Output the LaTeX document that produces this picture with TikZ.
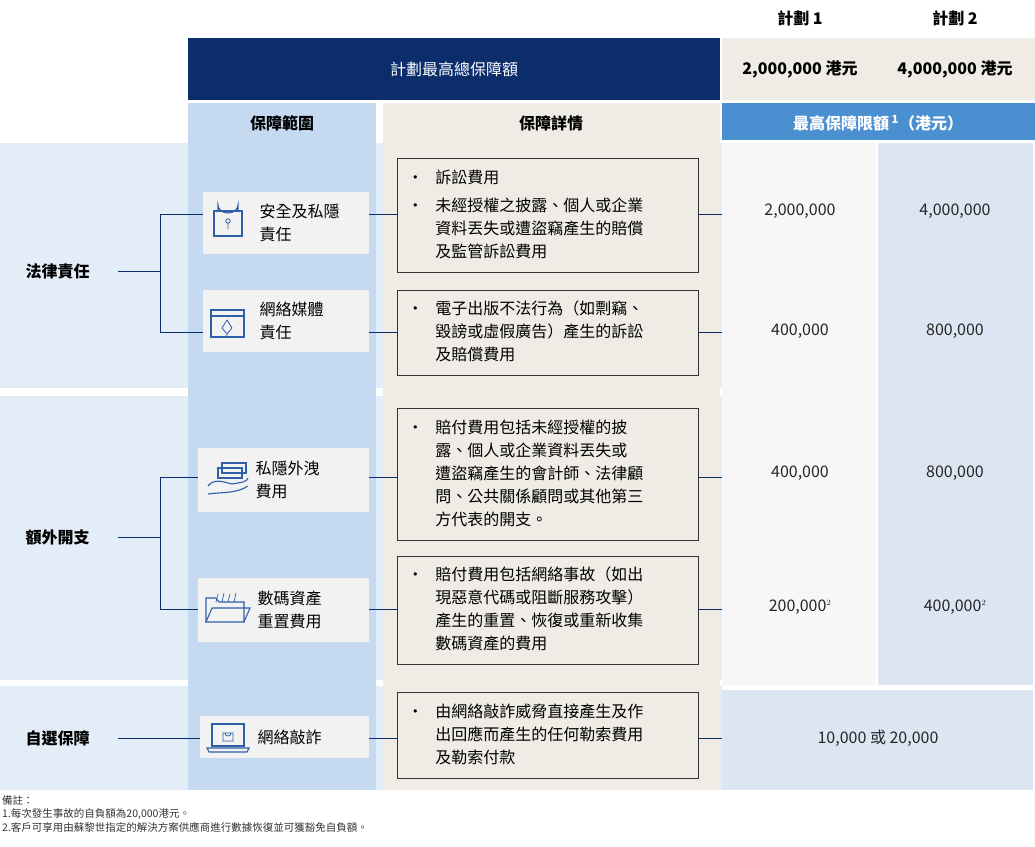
\documentclass[tikz,border=0pt]{standalone}
\usepackage{fontspec}
\setmainfont{Noto Sans CJK TC}
\usetikzlibrary{positioning}
\definecolor{navy}{HTML}{0B2D6B}
\definecolor{midblue}{HTML}{C5DAF0}
\definecolor{paleblue}{HTML}{E3EDF8}
\definecolor{beige}{HTML}{EEECE4}
\definecolor{barblue}{HTML}{4A8FD0}
\definecolor{lightgrey}{HTML}{F2F2F2}
\definecolor{iconblue}{HTML}{2E5FA8}
\definecolor{colone}{HTML}{F7F7F7}
\definecolor{coltwo}{HTML}{DCE6F2}
\newcommand{\detlines}[1]{\begin{tabular}{@{}p{28pt}@{}l@{}}#1\end{tabular}}
\begin{document}
\begin{tikzpicture}[x=1pt,y=-1pt,
  every node/.style={font=\fontsize{16}{23}\selectfont},
  catlabel/.style={anchor=west,font=\fontsize{16}{23}\selectfont\bfseries},
  itembox/.style={fill=lightgrey,anchor=north west,minimum height=62pt,inner sep=0pt},
  detbox/.style={draw=black!80,line width=0.8pt,anchor=north west,inner sep=0pt},
  link/.style={draw=navy,line width=0.9pt},
  amount/.style={text=black!85},
  iconline/.style={draw=iconblue,line width=1.1pt}]
\useasboundingbox (0,0) rectangle (1035,846);
% backgrounds
\fill[beige] (722,38) rectangle (1035,100);
\fill[paleblue] (0,143) rectangle (722,388);
\fill[paleblue] (0,396) rectangle (722,680);
\fill[paleblue] (0,686) rectangle (722,790);
\fill[midblue] (188,103) rectangle (376,790);
\fill[beige] (383,103) rectangle (720,790);
\fill[colone] (722,143) rectangle (876,685);
\fill[coltwo] (878,143) rectangle (1033,685);
\fill[coltwo] (722,690) rectangle (1033,790);
% header
\node[font=\fontsize{16}{20}\selectfont\bfseries] (plan1) at (800,18) {計劃 1};
\node[font=\fontsize{16}{20}\selectfont\bfseries] (plan2) at (955,18) {計劃 2};
\fill[navy] (188,38) rectangle (720,100);
\node[text=white] (total) at (454,69) {計劃最高總保障額};
\node[font=\fontsize{16}{20}\selectfont\bfseries] (total1) at (800,69) {2,000,000 港元};
\node[font=\fontsize{16}{20}\selectfont\bfseries] (total2) at (955,69) {4,000,000 港元};
\node[font=\fontsize{16}{20}\selectfont\bfseries] (hscope) at (282,123) {保障範圍};
\node[font=\fontsize{16}{20}\selectfont\bfseries] (hdetail) at (551,123) {保障詳情};
\fill[barblue] (722,103) rectangle (1035,140);
\node[text=white,font=\fontsize{16}{20}\selectfont\bfseries] (hlimit) at (878,123) {最高保障限額\,$^{\mathbf 1}$（港元）};
% categories
\node[catlabel] (cat1) at (22,271) {法律責任};
\node[catlabel] (cat2) at (22,537) {額外開支};
\node[catlabel] (cat3) at (22,738) {自選保障};
% items
\node[itembox,minimum width=166pt] (item1) at (203,192) {};
\node[itembox,minimum width=166pt] (item2) at (203,290) {};
\node[itembox,minimum width=171pt,minimum height=64pt] (item3) at (198,448) {};
\node[itembox,minimum width=171pt,minimum height=64pt] (item4) at (198,578) {};
\node[itembox,minimum width=169pt,minimum height=42pt] (item5) at (200,716) {};
\node[anchor=west,align=left] at (256,223) {安全及私隱\\責任};
\node[anchor=west,align=left] at (256,321) {網絡媒體\\責任};
\node[anchor=west,align=left] at (252,480) {私隱外洩\\費用};
\node[anchor=west,align=left] at (254,610) {數碼資產\\重置費用};
\node[anchor=west] at (254,737) {網絡敲詐};
% icons
\draw[iconline] (214,211) rectangle (242,236);
\draw[iconline] (218,211) -- (218,205) arc (180:0:10 and 8) -- (238,211);
\draw[iconline,line width=0.8pt] (228,221) circle (2.2) (228,223) -- (228,229);
\draw[iconline] (211,310) rectangle (244,337);
\draw[iconline] (211,316) -- (244,316);
\draw[iconline,line width=0.8pt] (227,320) -- (222,328) -- (227,334) -- (232,328) -- cycle (227,334) -- (227,338);
\draw[iconline] (218,468) rectangle (242,478);
\draw[iconline] (222,463) rectangle (246,473);
\draw[iconline] (208,486) .. controls (214,478) and (224,482) .. (232,484) .. controls (244,482) and (246,482) .. (248,478);
\draw[iconline] (208,494) .. controls (220,492) and (236,494) .. (248,486);
\draw[iconline] (206,622) -- (206,598) -- (216,598) -- (219,602) -- (244,602) -- (244,622) -- cycle;
\draw[iconline] (206,622) -- (212,608) -- (250,608) -- (244,622);
\draw[iconline,line width=0.7pt] (216,602) -- (218,594) (222,602) -- (224,593) (228,602) -- (230,594) (234,602) -- (236,593);
\draw[iconline] (212,724) rectangle (244,746);
\draw[iconline] (207,748) -- (249,748) -- (247,752) -- (209,752) -- cycle;
\draw[iconline,line width=0.8pt] (223,733) rectangle (233,741) (225,733) arc (180:0:3);
% details
\node[detbox] (det1) at (397,158) {\parbox[t][114pt][c]{301pt}{\hspace{10pt}\detlines{•&訴訟費用\\[5pt] •&未經授權之披露、個人或企業\\ &資料丟失或遭盜竊產生的賠償\\ &及監管訴訟費用}}};
\node[detbox] (det2) at (397,290) {\parbox[t][85pt][c]{301pt}{\hspace{10pt}\detlines{•&電子出版不法行為（如剽竊、\\ &毀謗或虛假廣告）產生的訴訟\\ &及賠償費用}}};
\node[detbox] (det3) at (397,408) {\parbox[t][132pt][c]{301pt}{\hspace{10pt}\detlines{•&賠付費用包括未經授權的披\\ &露、個人或企業資料丟失或\\ &遭盜竊產生的會計師、法律顧\\ &問、公共關係顧問或其他第三\\ &方代表的開支。}}};
\node[detbox] (det4) at (397,556) {\parbox[t][108pt][c]{301pt}{\hspace{10pt}\detlines{•&賠付費用包括網絡事故（如出\\ &現惡意代碼或阻斷服務攻擊）\\ &產生的重置、恢復或重新收集\\ &數碼資產的費用}}};
\node[detbox] (det5) at (397,692) {\parbox[t][86pt][c]{301pt}{\hspace{10pt}\detlines{•&由網絡敲詐威脅直接產生及作\\ &出回應而產生的任何勒索費用\\ &及勒索付款}}};
% amounts
\node[amount] (a11) at (800,211) {2,000,000};
\node[amount] (a12) at (955,211) {4,000,000};
\node[amount] (a21) at (800,331) {400,000};
\node[amount] (a22) at (955,331) {800,000};
\node[amount] (a31) at (800,473) {400,000};
\node[amount] (a32) at (955,473) {800,000};
\node[amount] (a41) at (800,607) {200,000$^{\scriptscriptstyle 2}$};
\node[amount] (a42) at (955,607) {400,000$^{\scriptscriptstyle 2}$};
\node[amount] (a5) at (878,738) {10,000 或 20,000};
\coordinate (amt1) at (722,211);
\coordinate (amt2) at (722,331);
\coordinate (amt3) at (722,477);
\coordinate (amt4) at (722,607);
\coordinate (amt5) at (722,735);
% connectors
\draw[link] (118,271) -| (160,214) -- (item1.west |- 0,214);
\draw[link] (160,271) |- (item2.west |- 0,332);
\draw[link] (118,537) -| (160,477) -- (item3.west |- 0,477);
\draw[link] (160,537) |- (item4.west |- 0,609);
\draw[link] (118,738) -- (item5.west |- 0,738);
\draw[link] (item1.east |- 0,214) -- (det1.west |- 0,214) (det1.east |- 0,214) -- (amt1 |- 0,214);
\draw[link] (item2.east |- 0,332) -- (det2.west |- 0,332) (det2.east |- 0,332) -- (amt2 |- 0,332);
\draw[link] (item3.east |- 0,477) -- (det3.west |- 0,477) (det3.east |- 0,477) -- (amt3);
\draw[link] (item4.east |- 0,609) -- (det4.west |- 0,609) (det4.east |- 0,609) -- (amt4 |- 0,609);
\draw[link] (item5.east |- 0,738) -- (det5.west |- 0,738) (det5.east |- 0,738) -- (amt5 |- 0,738);
% notes
\node[anchor=north west,align=left,inner sep=0pt,font=\fontsize{10.5}{13.5}\selectfont,text=black!80] (notes) at (2,795) {備註：\\1.每次發生事故的自負額為20,000港元。\\2.客戶可享用由蘇黎世指定的解決方案供應商進行數據恢復並可獲豁免自負額。};
\end{tikzpicture}
\end{document}
